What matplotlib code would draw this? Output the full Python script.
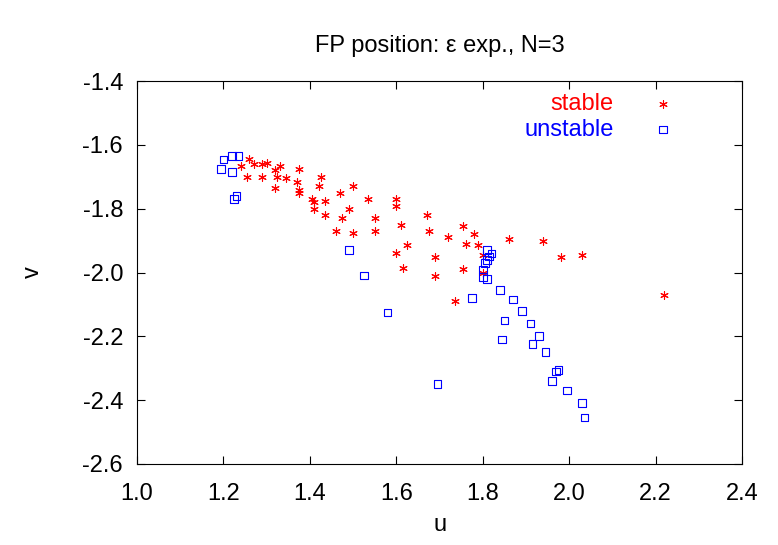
import numpy as np
import matplotlib.pyplot as plt

stable_u = [1.24, 1.26, 1.255, 1.27, 1.29, 1.30, 1.29, 1.32, 1.33, 1.32, 1.325, 1.345, 1.375, 1.37,
            1.375, 1.375, 1.405, 1.41, 1.41, 1.42, 1.425, 1.435, 1.435, 1.46, 1.47, 1.475, 1.49, 1.50,
            1.50, 1.535, 1.55, 1.55, 1.60, 1.60, 1.60, 1.61, 1.615, 1.625, 1.67, 1.675, 1.69, 1.69,
            1.72, 1.735, 1.755, 1.76, 1.755, 1.78, 1.79, 1.80, 1.80, 1.86, 1.94, 1.98, 2.03, 2.22]
stable_v = [-1.665, -1.645, -1.70, -1.66, -1.66, -1.655, -1.70, -1.68, -1.665, -1.735, -1.70, -1.705,
            -1.675, -1.715, -1.74, -1.75, -1.77, -1.80, -1.78, -1.73, -1.70, -1.775, -1.82, -1.87,
            -1.75, -1.83, -1.80, -1.73, -1.875, -1.77, -1.83, -1.87, -1.77, -1.79, -1.94, -1.85,
            -1.985, -1.915, -1.82, -1.87, -1.95, -2.01, -1.89, -2.09, -1.855, -1.91, -1.99, -1.88,
            -1.915, -2.0, -1.945, -1.895, -1.90, -1.95, -1.945, -2.07]

unstable_u = [1.20, 1.195, 1.22, 1.22, 1.235, 1.225, 1.23, 1.49, 1.525, 1.58, 1.695, 1.775, 1.80,
              1.81, 1.80, 1.805, 1.81, 1.81, 1.82, 1.815, 1.84, 1.85, 1.845, 1.87, 1.89, 1.91, 1.915,
              1.93, 1.945, 1.96, 1.97, 1.975, 1.995, 2.03, 2.035]
unstable_v = [-1.645, -1.675, -1.635, -1.685, -1.635, -1.77, -1.76, -1.93, -2.01, -2.125, -2.35,
              -2.08, -2.015, -2.02, -1.99, -1.97, -1.96, -1.93, -1.94, -1.95, -2.055, -2.15, -2.21,
              -2.085, -2.12, -2.16, -2.225, -2.20, -2.25, -2.34, -2.31, -2.305, -2.37, -2.41, -2.455]

plt.rcParams["font.family"] = "Liberation Sans"
fig = plt.figure(figsize=(7.78, 5.45), dpi=100)
ax = fig.add_axes([0.176, 0.149, 0.778, 0.702])

ax.scatter(stable_u, stable_v, marker=(6, 2, 0), s=30, color="red", linewidths=0.8, label="stable")
ax.scatter(unstable_u, unstable_v, marker="s", s=30, facecolors="none", edgecolors="blue",
           linewidths=0.8, label="unstable")

ax.set_xlim(1.0, 2.4)
ax.set_ylim(-2.6, -1.4)
ax.set_xticks(np.arange(1.0, 2.41, 0.2))
ax.set_yticks(np.arange(-2.6, -1.39, 0.2))
ax.xaxis.set_major_formatter(plt.FormatStrFormatter("%.1f"))
ax.yaxis.set_major_formatter(plt.FormatStrFormatter("%.1f"))
ax.tick_params(direction="in", top=True, right=True, labelsize=17, length=6)
ax.tick_params(axis="x", pad=14)
ax.tick_params(axis="y", pad=10)
ax.set_xlabel("u", fontsize=17, labelpad=6)
ax.set_ylabel("v", fontsize=17, labelpad=28)
ax.set_title("FP position: \u03b5 exp., N=3", fontsize=17, pad=21)

leg = ax.legend(loc="upper right", bbox_to_anchor=(0.928, 1.0), frameon=False, fontsize=17,
                markerfirst=False, handletextpad=1.1, labelspacing=0.15, borderaxespad=0.1)
for txt, c in zip(leg.get_texts(), ["red", "blue"]):
    txt.set_color(c)

fig.savefig("out.png", dpi=100)
